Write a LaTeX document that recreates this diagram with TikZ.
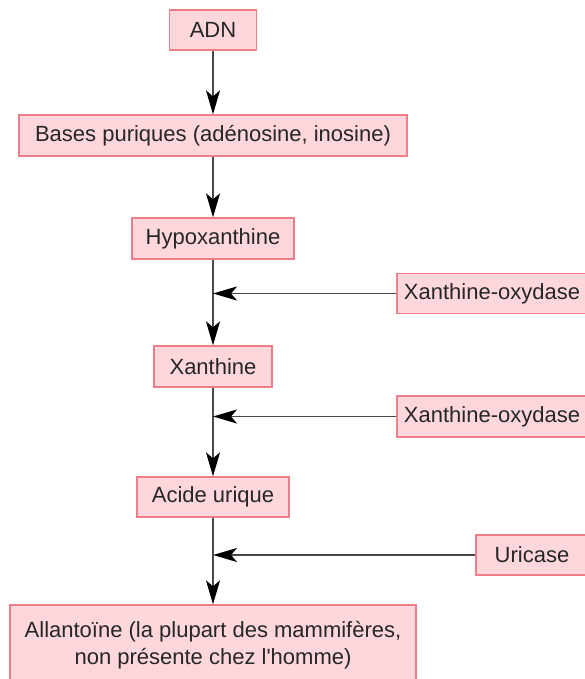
\documentclass[tikz,border=0pt]{standalone}
\usepackage{fontspec}
\setmainfont{Liberation Sans}
\usetikzlibrary{arrows.meta}
\definecolor{boxfill}{HTML}{FDD7DB}
\definecolor{boxline}{HTML}{EE7F89}
\definecolor{linkgray}{HTML}{4A4A4A}
\tikzset{
  chemfont/.style={font=\fontsize{22}{27}\selectfont, text=black!85},
  chem/.style={draw=boxline, fill=boxfill, line width=1.3pt, inner sep=0pt,
    chemfont, align=center},
  link/.style={draw=linkgray, line width=1.8pt,
    -{Stealth[length=24pt,width=14pt,inset=6pt,color=black]}}
}
\begin{document}
\begin{tikzpicture}[x=1pt,y=-1pt]
\useasboundingbox (0,0) rectangle (585,679);
\clip (0,0) rectangle (585,679);
\node[chem, minimum width=87pt, minimum height=40pt] (adn) at (213,30) {ADN};
\node[chem, minimum width=388pt, minimum height=41pt] (bases) at (213,135.5) {Bases puriques (adénosine, inosine)};
\node[chem, minimum width=162pt, minimum height=41pt] (hypo) at (213,238.5) {Hypoxanthine};
\node[chem, minimum width=118pt, minimum height=41pt] (xan) at (213,366.5) {Xanthine};
\node[chem, minimum width=152pt, minimum height=40pt] (acide) at (213,497) {Acide urique};
\node[chem, minimum width=406pt, minimum height=96pt] (allan) at (213,653) {};
\node[chemfont, align=center] (allantxt) at (213,645) {Allantoïne (la plupart des mammifères,\\non présente chez l\textquotesingle homme)};
\node[chem, minimum width=190pt, minimum height=40pt] (xo1) at (492,293.5) {Xanthine-oxydase};
\node[chem, minimum width=190pt, minimum height=41pt] (xo2) at (492,416.5) {Xanthine-oxydase};
\node[chem, minimum width=112pt, minimum height=40pt] (uri) at (532,555) {Uricase};
\draw[link] (adn.south) -- (bases.north);
\draw[link] (bases.south) -- (hypo.north);
\draw[link] (hypo.south) -- (xan.north);
\draw[link] (xan.south) -- (acide.north);
\draw[link] (acide.south) -- (allan.north);
\draw[link] (xo1.west) -- (xo1.west -| hypo.south);
\draw[link] (xo2.west) -- (xo2.west -| xan.south);
\draw[link] (uri.west) -- (uri.west -| acide.south);
\end{tikzpicture}
\end{document}
